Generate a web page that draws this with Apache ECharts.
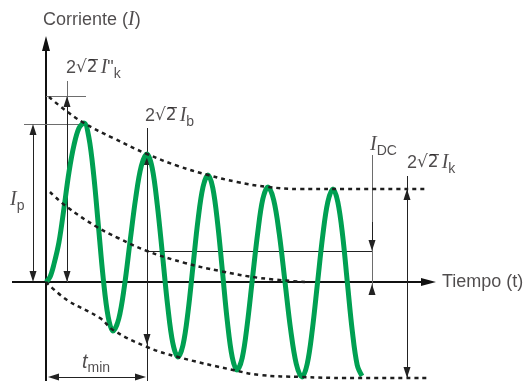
<!DOCTYPE html>
<html>
<head>
<meta charset="utf-8">
<script src="https://cdn.jsdelivr.net/npm/echarts@6/dist/echarts.min.js"></script>
<style>
html, body { margin: 0; padding: 0; background: #fff; }
#chart { width: 526px; height: 381px; }
</style>
</head>
<body>
<div id="chart"></div>
<script>
// corriente de cortocircuito, unidades arbitrarias: [tiempo, corriente]
var wave = [
	[0,0],[4,5],[8,18],[13,40],[18,74],[23,110],[28,137],[33,154],[38,159],
	[42.8,145],[47.7,107],[52.5,55],[57.3,3],[62.2,-35],[67,-49],
	[72.7,-37],[78.3,-5],[84,40],[89.7,84],[95.3,116],[101,128],
	[106.2,114],[111.3,77],[116.5,27],[121.7,-24],[126.8,-61],[132,-75],
	[137,-63],[142,-30],[147,16],[152,62],[157,95],[162,107],
	[166.8,94],[171.7,58],[176.5,10],[181.3,-39],[186.2,-75],[191,-88],
	[196.2,-76],[201.3,-42],[206.5,4],[211.7,49],[216.8,83],[222,95],
	[227.7,82],[233.3,48],[239,0],[244.7,-48],[250.3,-82],[256,-95],
	[261.2,-82],[266.3,-48],[271.5,-1],[276.7,46],[281.8,80],[287,93],
	[291.8,80],[296.7,46],[301.5,-2],[306.3,-49],[311.2,-83],[316,-94]
];
// envolventes (punteadas)
var upperEnv = [[3,185],[19,172],[38,159],[67,144],[101,128],[132,116],[162,107],[191,100],[222,95],[254,93],[287,93],[382,93]];
var dcEnv = [[4,90],[21,75],[51,55],[72,44],[101,31],[139,19],[174,11],[214,4],[259,0]];
var lowerEnv = [[0,0],[21,-18],[54,-36],[67,-48],[101,-65],[132,-75],[187,-88],[214,-93],[256,-95],[300,-96],[384,-96]];

// ejes con flecha
var axisArrows = [
	[[0,-99],[0,238.5]],
	[[-34,0],[382.5,0]]
];
// lineas de referencia
var grayGuides = [
	[[0,186],[40,186]],
	[[21,201],[21,0]],
	[[-22,158],[38,158]],
	[[326,127],[326,-11]]
];
var darkGuides = [
	[[101,154],[101,-99]],
	[[101,31],[326,31]],
	[[361,106],[361,-96]]
];
// cotas con doble flecha
var dimArrows = [
	[[21,180.5],[21,5.5]],
	[[-13,152.5],[-13,5.5]],
	[[101,122.5],[101,-57.5]],
	[[7.5,-95],[94.5,-95]],
	[[361,87.5],[361,-90.5]]
];
// flechas simples
var oneArrows = [
	[[326,60],[326,36.5]],
	[[326,-11],[326,-7.5]]
];
// textos
var labels = [
	[-3, 262, '{n|Corriente (}{it|I}{n|)}'],
	[396, 0, '{n|Tiempo (t)}'],
	[20, 214, '{d|2}{r|√2\u0305}{iti|I}{d|"}{sub|k}'],
	[99, 166, '{d|2}{r|√2\u0305}{iti|I}{sub|b}'],
	[324, 137, '{it|I}{sub|DC}'],
	[361, 119, '{d|2}{r|√2\u0305}{iti|I}{sub|k}'],
	[-36, 82, '{it|I}{sub|p}'],
	[36, -80, '{ti|t}{sub|min}']
];

var textColor = '#231f20';

function linesSeries(list, color, width, symbol, z) {
	return {
		type: 'lines',
		coordinateSystem: 'cartesian2d',
		symbol: symbol,
		symbolSize: [[7, 11], [7, 11]],
		lineStyle: { color: color, width: width, opacity: 1, curveness: 0 },
		silent: true,
		z: z,
		data: list.map(function (c) { return { coords: c }; })
	};
}

function dotted(data) {
	return {
		type: 'line',
		data: data,
		smooth: 0.4,
		showSymbol: false,
		silent: true,
		z: 5,
		lineStyle: { color: '#1e1e1e', width: 2.5, type: [4, 4] }
	};
}

var axisSeries = linesSeries(axisArrows, '#111', 2, ['none', 'triangle'], 2);
axisSeries.symbolSize = [[8, 15], [8, 15]];

var chart = echarts.init(document.getElementById('chart'));
chart.setOption({
	animation: false,
	grid: { left: 0, right: 0, top: 0, bottom: 0 },
	xAxis: { type: 'value', min: -46, max: 480, show: false },
	yAxis: { type: 'value', min: -99, max: 282, show: false },
	series: [
		axisSeries,
		linesSeries(grayGuides, '#6d6d6d', 1, ['none', 'none'], 2),
		linesSeries(darkGuides, '#222', 1, ['none', 'none'], 2),
		linesSeries(dimArrows, '#222', 1, ['triangle', 'triangle'], 2),
		linesSeries(oneArrows, '#222', 1, ['none', 'triangle'], 2),
		{
			type: 'line',
			data: wave,
			smooth: 0.35,
			showSymbol: false,
			silent: true,
			z: 4,
			lineStyle: { color: '#00a052', width: 5 }
		},
		dotted(upperEnv),
		dotted(dcEnv),
		dotted(lowerEnv),
		{
			type: 'scatter',
			symbolSize: 0,
			silent: true,
			z: 10,
			data: labels,
			label: {
				show: true,
				position: 'right',
				distance: 0,
				color: textColor,
				formatter: function (p) { return p.data[2]; },
				rich: {
					n: { fontFamily: 'Liberation Sans', fontSize: 18, lineHeight: 26, color: textColor },
					d: { fontFamily: 'Liberation Sans', fontSize: 18, lineHeight: 26, color: textColor },
					r: { fontFamily: 'DejaVu Sans', fontSize: 17, lineHeight: 26, color: textColor },
					it: { fontFamily: 'Liberation Serif', fontStyle: 'italic', fontSize: 20, lineHeight: 26, color: textColor },
					iti: { fontFamily: 'Liberation Serif', fontStyle: 'italic', fontSize: 20, lineHeight: 26, color: textColor, padding: [0, 0, 0, 3] },
					ti: { fontFamily: 'Liberation Sans', fontStyle: 'italic', fontSize: 20, lineHeight: 26, color: textColor },
					sub: { fontFamily: 'Liberation Sans', fontSize: 14, lineHeight: 14, verticalAlign: 'bottom', color: textColor }
				}
			}
		}
	]
});
</script>
</body>
</html>
